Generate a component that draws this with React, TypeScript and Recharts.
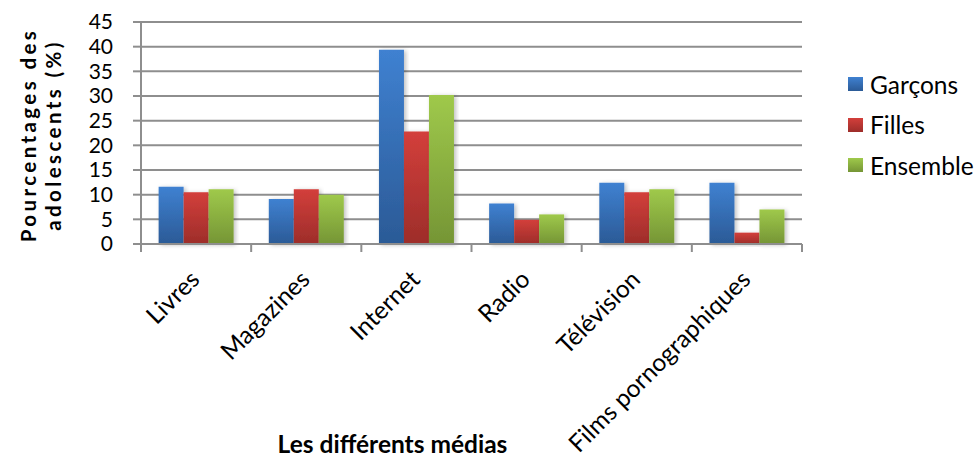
import React from 'react';
import { BarChart, Bar, XAxis, YAxis, CartesianGrid } from 'recharts';

const categories = ['Livres', 'Magazines', 'Internet', 'Radio', 'Télévision', 'Films pornographiques'];
const garcons = [11.6, 9.1, 39.4, 8.2, 12.4, 12.4];
const filles = [10.5, 11.1, 22.8, 4.9, 10.5, 2.3];
const ensemble = [11.1, 10.0, 30.2, 6.0, 11.1, 7.0];
const yTicks = [0, 5, 10, 15, 20, 25, 30, 35, 40, 45];

const series = [
  { key: 'garcons', name: 'Garçons', top: '#3f81d1', bottom: '#2b5a96' },
  { key: 'filles', name: 'Filles', top: '#d33f3b', bottom: '#9d2d2a' },
  { key: 'ensemble', name: 'Ensemble', top: '#9fc94b', bottom: '#759535' },
];

const data = categories.map((name, i) => ({
  name,
  garcons: garcons[i],
  filles: filles[i],
  ensemble: ensemble[i],
}));

const FONT = 'Lato, "Open Sans", sans-serif';
const GRID = '#8e8e8e';

function XTick(props: any) {
  const { x, y, payload, index, width, visibleTicksCount } = props;
  const band = width / visibleTicksCount;
  const tx = x + 5;
  const ty = y + 37;
  return (
    <g>
      <line x1={x - band / 2} x2={x - band / 2} y1={y} y2={y + 8} stroke={GRID} strokeWidth={2} />
      {index === visibleTicksCount - 1 && (
        <line x1={x + band / 2} x2={x + band / 2} y1={y} y2={y + 8} stroke={GRID} strokeWidth={2} />
      )}
      <text
        x={tx}
        y={ty}
        textAnchor="end"
        transform={`rotate(-45, ${tx}, ${ty})`}
        fontSize={24.5}
        fontFamily={FONT}
        fill="#000"
      >
        {payload.value}
      </text>
    </g>
  );
}

function YTitle(props: any) {
  const vb = props.viewBox || { x: 0, y: 22, width: 141, height: 222 };
  const cy = vb.y + vb.height / 2 + 2;
  return (
    <g fontFamily={FONT} fontWeight="bold" fontSize={20.5} letterSpacing={3.4} fill="#000">
      <text x={28} y={cy} textAnchor="middle" dominantBaseline="central" transform={`rotate(-90, 28, ${cy})`}>
        Pourcentages des
      </text>
      <text x={53} y={cy} textAnchor="middle" dominantBaseline="central" transform={`rotate(-90, 53, ${cy})`}>
        adolescents (%)
      </text>
    </g>
  );
}

function XTitle(props: any) {
  const vb = props.viewBox || { x: 141, y: 244, width: 661, height: 211 };
  return (
    <text
      x={vb.x + vb.width / 2 - 79}
      y={453}
      textAnchor="middle"
      fontFamily={FONT}
      fontWeight="bold"
      fontSize={24.5}
      fill="#000"
    >
      Les différents médias
    </text>
  );
}

export default function App() {
  return (
    <div style={{ position: 'absolute', left: 0, top: 0, width: 975, height: 455, background: '#fff' }}>
      <BarChart
        width={975}
        height={455}
        data={data}
        margin={{ top: 22, right: 173, bottom: 0, left: 0 }}
        barCategoryGap="16%"
        barGap={0}
      >
        <defs>
          {series.map((s) => (
            <linearGradient key={s.key} id={`g-${s.key}`} x1="0" y1="0" x2="0" y2="1">
              <stop offset="0%" stopColor={s.top} />
              <stop offset="100%" stopColor={s.bottom} />
            </linearGradient>
          ))}
          <filter id="shadow" x="-20%" y="-20%" width="140%" height="140%">
            <feDropShadow dx="2" dy="1" stdDeviation="2" floodColor="#000" floodOpacity="0.25" />
          </filter>
        </defs>
        <CartesianGrid vertical={false} stroke={GRID} strokeWidth={2} />
        <XAxis
          dataKey="name"
          height={211}
          interval={0}
          axisLine={{ stroke: GRID, strokeWidth: 2 }}
          tickLine={false}
          tickSize={0}
          tickMargin={0}
          tick={<XTick />}
          label={<XTitle />}
        />
        <YAxis
          width={141}
          domain={[0, 45]}
          ticks={yTicks}
          interval={0}
          axisLine={{ stroke: GRID, strokeWidth: 2 }}
          tickLine={{ stroke: GRID, strokeWidth: 2 }}
          tickSize={8}
          tickMargin={20}
          tick={{ fontSize: 21, fontFamily: FONT, fill: '#000' }}
          label={<YTitle />}
        />
        {series.map((s) => (
          <Bar
            key={s.key}
            dataKey={s.key}
            name={s.name}
            fill={`url(#g-${s.key})`}
            filter="url(#shadow)"
            isAnimationActive={false}
          />
        ))}
      </BarChart>
      <div style={{ position: 'absolute', left: 848, top: 64, fontFamily: FONT, fontSize: 24.5 }}>
        {series.map((s) => (
          <div key={s.key} style={{ display: 'flex', alignItems: 'center', height: 40.5 }}>
            <span
              style={{
                width: 15,
                height: 14,
                marginRight: 7,
                background: `linear-gradient(${s.top}, ${s.bottom})`,
              }}
            />
            <span>{s.name}</span>
          </div>
        ))}
      </div>
    </div>
  );
}
